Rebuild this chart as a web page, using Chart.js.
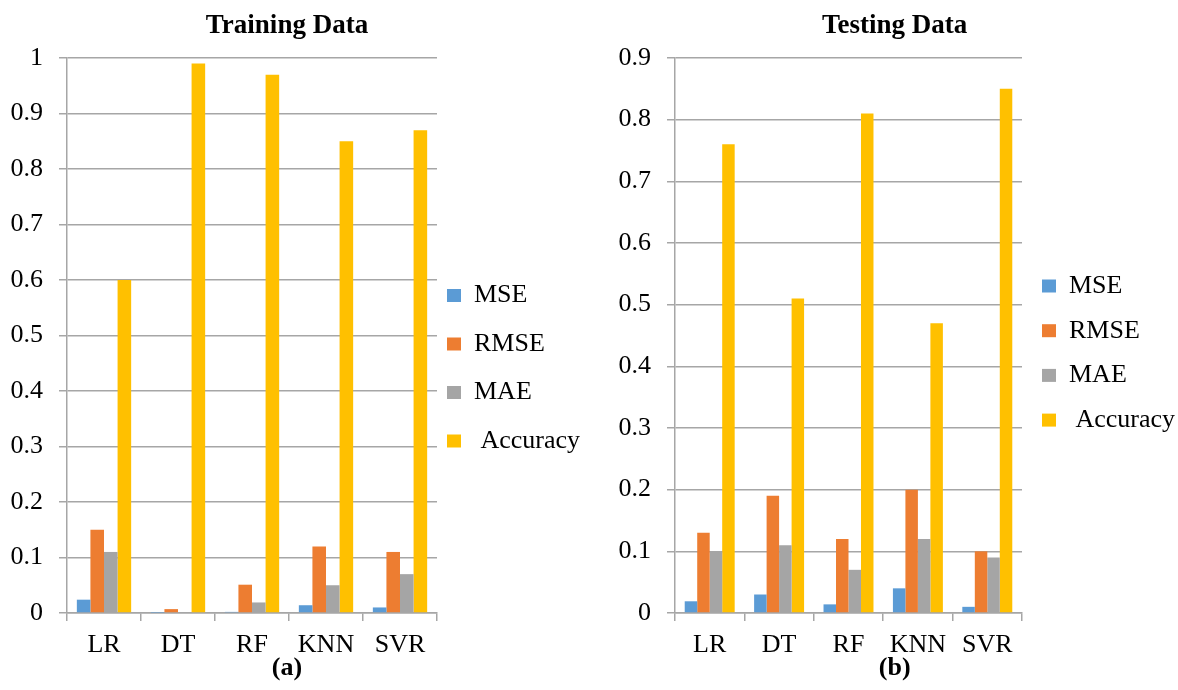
<!DOCTYPE html>
<html>
<head>
<meta charset="utf-8">
<script src="https://cdn.jsdelivr.net/npm/chart.js@4.4.1/dist/chart.umd.min.js"></script>
<style>
html,body{margin:0;padding:0;background:#fff;width:1178px;height:690px;overflow:hidden;position:relative;}
canvas{position:absolute;top:0;}
</style>
</head>
<body>
<canvas id="ca"></canvas>
<canvas id="cb"></canvas>
<script>
// ---- data ----
const categories = ['LR', 'DT', 'RF', 'KNN', 'SVR'];
const seriesNames = ['MSE', 'RMSE', 'MAE', ' Accuracy'];

const trainMSE  = [0.024, 0.0005, 0.002, 0.014, 0.010];
const trainRMSE = [0.150, 0.007, 0.051, 0.120, 0.110];
const trainMAE  = [0.110, 0.001, 0.019, 0.050, 0.070];
const trainAcc  = [0.60, 0.99, 0.97, 0.85, 0.87];

const testMSE  = [0.019, 0.030, 0.014, 0.040, 0.010];
const testRMSE = [0.130, 0.190, 0.120, 0.200, 0.100];
const testMAE  = [0.100, 0.110, 0.070, 0.120, 0.090];
const testAcc  = [0.76, 0.51, 0.81, 0.47, 0.85];

const trainTicks = [0, 0.1, 0.2, 0.3, 0.4, 0.5, 0.6, 0.7, 0.8, 0.9, 1];
const testTicks  = [0, 0.1, 0.2, 0.3, 0.4, 0.5, 0.6, 0.7, 0.8, 0.9];

const trainTitle = 'Training Data';
const testTitle = 'Testing Data';
const trainCaption = '(a)';
const testCaption = '(b)';

// ---- styles / layout ----
const seriesColors = ['#5B9BD5', '#ED7D31', '#A5A5A5', '#FFC000'];
const FONT = "'Liberation Serif', 'Times New Roman', serif";
const GRID = '#a6a6a6';
const LEG_SIZE = 26, BOX_W = 14;

function textWidth(str, size) {
  const ctx = document.createElement('canvas').getContext('2d');
  ctx.font = size + 'px ' + FONT;
  return ctx.measureText(str).width;
}

function makeChart(id, title, caption, series, ticks, geo) {
  const longest = Math.max(...seriesNames.map(s => textWidth(s, LEG_SIZE)));
  const legendW = geo.legendPad + BOX_W + LEG_SIZE / 2 + longest + 10;
  const right = geo.plotR + legendW;
  const titleLeft = 2 * geo.titleC - right;
  const padL = titleLeft - geo.canvasLeft;
  const padR = geo.canvasLeft + geo.canvasW - right;
  const yWidth = geo.plotL - titleLeft;

  const cv = document.getElementById(id);
  cv.width = geo.canvasW; cv.height = 690;
  cv.style.left = geo.canvasLeft + 'px';

  const datasets = series.map((vals, i) => ({
    label: seriesNames[i],
    data: vals,
    backgroundColor: seriesColors[i],
    borderWidth: 0,
    barPercentage: 1,
    categoryPercentage: geo.catPct
  }));
  return new Chart(cv, {
    type: 'bar',
    data: { labels: categories, datasets },
    options: {
      responsive: false,
      animation: false,
      devicePixelRatio: 1,
      layout: { padding: { left: padL, right: padR, top: 0, bottom: 0 } },
      scales: {
        x: {
          grid: { offset: true, drawOnChartArea: false, drawTicks: true, tickLength: 8, color: GRID, lineWidth: 1.5 },
          border: { display: true, color: GRID, width: 1.5 },
          ticks: { font: { family: FONT, size: 26 }, color: '#000', padding: 9, maxRotation: 0 },
          afterFit: s => { s.height = 48.5; }
        },
        y: {
          min: ticks[0],
          max: ticks[ticks.length - 1],
          afterBuildTicks: s => { s.ticks = ticks.map(v => ({ value: v })); },
          grid: { color: GRID, lineWidth: 1.5, drawTicks: true, tickLength: 8 },
          border: { display: true, color: GRID, width: 1.5 },
          ticks: { font: { family: FONT, size: 26 }, color: '#000', padding: 16,
                   callback: v => String(Math.round(v * 10) / 10) },
          afterFit: s => { s.width = yWidth; }
        }
      },
      plugins: {
        title: {
          display: true, text: title, color: '#000',
          font: { family: FONT, size: 27, weight: 'bold', lineHeight: 1.2 },
          padding: { top: 10, bottom: 15.6 }
        },
        subtitle: {
          display: true, text: caption, position: 'bottom', color: '#000',
          font: { family: FONT, size: 26, weight: 'bold', lineHeight: 0.5 },
          padding: { top: 0, bottom: 15.5 }
        },
        legend: {
          position: 'right',
          align: 'center',
          fullSize: false,
          maxWidth: legendW,
          title: { display: true, text: '', font: { size: 1, lineHeight: 1 }, padding: { top: geo.legendTitle, bottom: 0 } },
          labels: {
            boxWidth: BOX_W, boxHeight: 13,
            padding: geo.legendPad,
            color: '#000',
            font: { family: FONT, size: LEG_SIZE, lineHeight: geo.legendLH },
            generateLabels: chart => Chart.defaults.plugins.legend.labels.generateLabels(chart)
              .map(it => Object.assign(it, { text: [it.text], lineWidth: 0 }))
          }
        },
        tooltip: { enabled: false }
      }
    }
  });
}

makeChart('ca', trainTitle, trainCaption, [trainMSE, trainRMSE, trainMAE, trainAcc], trainTicks,
  { canvasLeft: -20, canvasW: 615, plotL: 67, plotR: 437, titleC: 287, catPct: 0.734,
    legendPad: 10, legendLH: 38.5 / 26, legendTitle: 77 });
makeChart('cb', testTitle, testCaption, [testMSE, testRMSE, testMAE, testAcc], testTicks,
  { canvasLeft: 598, canvasW: 600, plotL: 675, plotR: 1022, titleC: 894.7, catPct: 0.72,
    legendPad: 20, legendLH: 24.7 / 26, legendTitle: 32.8 });
</script>
</body>
</html>
